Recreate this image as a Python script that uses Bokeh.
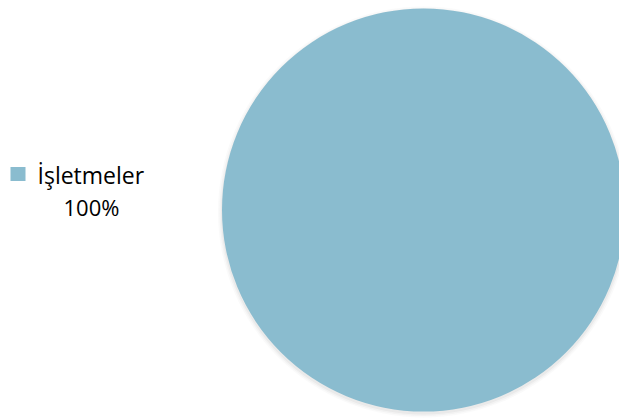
import numpy as np
from bokeh.plotting import figure
from bokeh.models import ColumnDataSource
from bokeh.core.properties import value
from bokeh.embed import file_html
from bokeh.resources import INLINE

categories = ["İşletmeler"]
values = [100]
colors = ["#8ABCCF"]

W, H = 619, 418
p = figure(width=W, height=H, x_range=(0, W), y_range=(0, H),
           output_backend="svg", toolbar_location=None, min_border=0)
p.axis.visible = False
p.grid.visible = False
p.outline_line_color = None
p.background_fill_color = "white"
p.border_fill_color = "white"

total = float(sum(values))
fracs = np.array(values) / total
ends = np.cumsum(fracs) * 2 * np.pi
starts = np.concatenate([[0.0], ends[:-1]])
pct = [f"{round(f * 100)}%" for f in fracs]

cx, cy, r = 423, 208.5, 201.5

# soft shadow
for i, a in enumerate([0.04, 0.06, 0.08]):
    p.circle(x=[cx], y=[cy - 2], radius=r + 4 - i * 1.5, radius_units="screen",
             fill_color="#808080", fill_alpha=a, line_color=None)

src = ColumnDataSource(dict(cat=categories, val=values, start=starts, end=ends,
                            color=colors, pct=pct))
p.wedge(x=cx, y=cy, radius=r, radius_units="screen",
        start_angle="start", end_angle="end", fill_color="color",
        line_color=None, source=src)

# legend (manual)
ys = [244.5 - i * 60 for i in range(len(categories))]
p.rect(x=[17.5] * len(categories), y=ys, width=15, height=14,
       width_units="screen", height_units="screen",
       fill_color=colors, line_color=None)
p.text(x=[37] * len(categories), y=[y - 0.5 for y in ys], text=categories,
       text_font=value("Open Sans"), text_font_size="23px", text_color="#000000",
       text_baseline="alphabetic", text_align="left")
p.text(x=[91] * len(categories), y=[y - 33 for y in ys], text=pct,
       text_font=value("Open Sans"), text_font_size="22px", text_color="#000000",
       text_baseline="alphabetic", text_align="center")

open("out.html", "w").write(file_html(p, INLINE))
